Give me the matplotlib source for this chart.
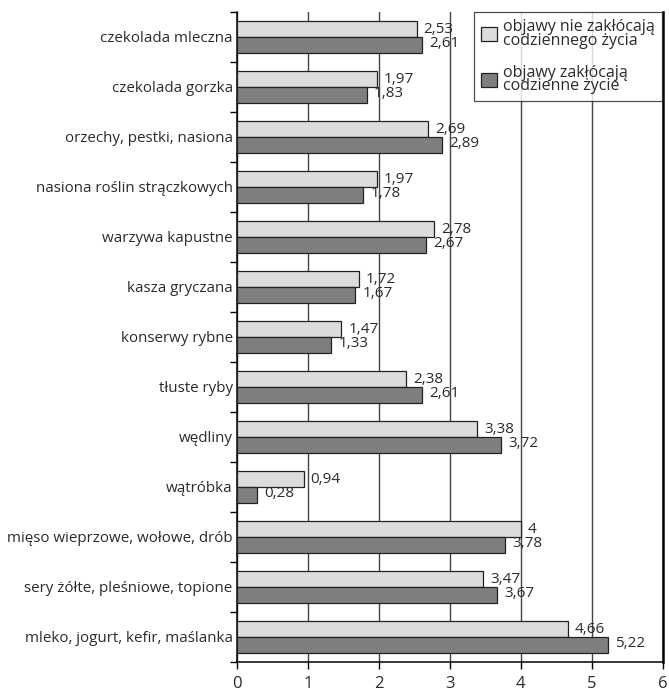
import matplotlib.pyplot as plt
import numpy as np

categories = [
    "czekolada mleczna",
    "czekolada gorzka",
    "orzechy, pestki, nasiona",
    "nasiona roślin strączkowych",
    "warzywa kapustne",
    "kasza gryczana",
    "konserwy rybne",
    "tłuste ryby",
    "wędliny",
    "wątróbka",
    "mięso wieprzowe, wołowe, drób",
    "sery żółte, pleśniowe, topione",
    "mleko, jogurt, kefir, maślanka",
]
no_disrupt = [2.53, 1.97, 2.69, 1.97, 2.78, 1.72, 1.47, 2.38, 3.38, 0.94, 4.00, 3.47, 4.66]
disrupt = [2.61, 1.83, 2.89, 1.78, 2.67, 1.67, 1.33, 2.61, 3.72, 0.28, 3.78, 3.67, 5.22]
series_labels = ["objawy nie zakłócają\ncodziennego życia", "objawy zakłócają\ncodzienne życie"]

plt.rcParams["font.family"] = ["Open Sans", "DejaVu Sans"]
txt = "#2b2b2b"

fig = plt.figure(figsize=(6.69, 6.92), dpi=100)
ax = fig.add_axes([0.354, 0.0434, 0.637, 0.9396])

y = np.arange(len(categories))
h = 0.32
ax.barh(y - h / 2, no_disrupt, height=h, color="#dcdcdc", edgecolor="#222222",
        linewidth=0.9, label=series_labels[0], zorder=3)
ax.barh(y + h / 2, disrupt, height=h, color="#7f7f81", edgecolor="#222222",
        linewidth=0.9, label=series_labels[1], zorder=3)


def fmt(v):
    s = f"{v:.2f}".rstrip("0").rstrip(".")
    return s.replace(".", ",")


for yi, v in zip(y, no_disrupt):
    ax.text(v + 0.1, yi - h / 2 + 0.02, fmt(v), va="center", ha="left", fontsize=11, color=txt, zorder=4)
for yi, v in zip(y, disrupt):
    ax.text(v + 0.1, yi + h / 2 - 0.02, fmt(v), va="center", ha="left", fontsize=11, color=txt, zorder=4)

ax.set_xlim(0, 6)
ax.set_ylim(len(categories) - 0.5, -0.5)
ax.set_xticks(range(7))
ax.set_xticklabels([str(i) for i in range(7)], fontsize=12, color=txt)
ax.set_yticks(y)
ax.set_yticklabels(categories, fontsize=10.9, color=txt)
ax.tick_params(axis="y", length=0, pad=3)
ax.set_yticks(np.arange(-0.5, len(categories), 1), minor=True)
ax.tick_params(axis="y", which="minor", length=5, width=1, direction="out")
ax.tick_params(axis="x", length=5, width=1, direction="out", pad=5)
ax.grid(axis="x", color="#444444", linewidth=1.0, zorder=0)

for side in ["left", "bottom"]:
    ax.spines[side].set_linewidth(1.1)
ax.spines["right"].set_linewidth(1.8)
ax.spines["top"].set_visible(False)

leg = ax.legend(loc="upper right", bbox_to_anchor=(0.997, 1.0), fontsize=11.5, frameon=True,
                fancybox=False, edgecolor="#222222", handlelength=1.0, handleheight=1.0,
                handletextpad=0.35, labelspacing=1.0, borderaxespad=0.0, borderpad=0.45)
leg.get_frame().set_linewidth(0.9)
leg.set_zorder(5)
for t in leg.get_texts():
    t.set_linespacing(0.8)
    t.set_color(txt)

fig.savefig("out.png", dpi=100)
